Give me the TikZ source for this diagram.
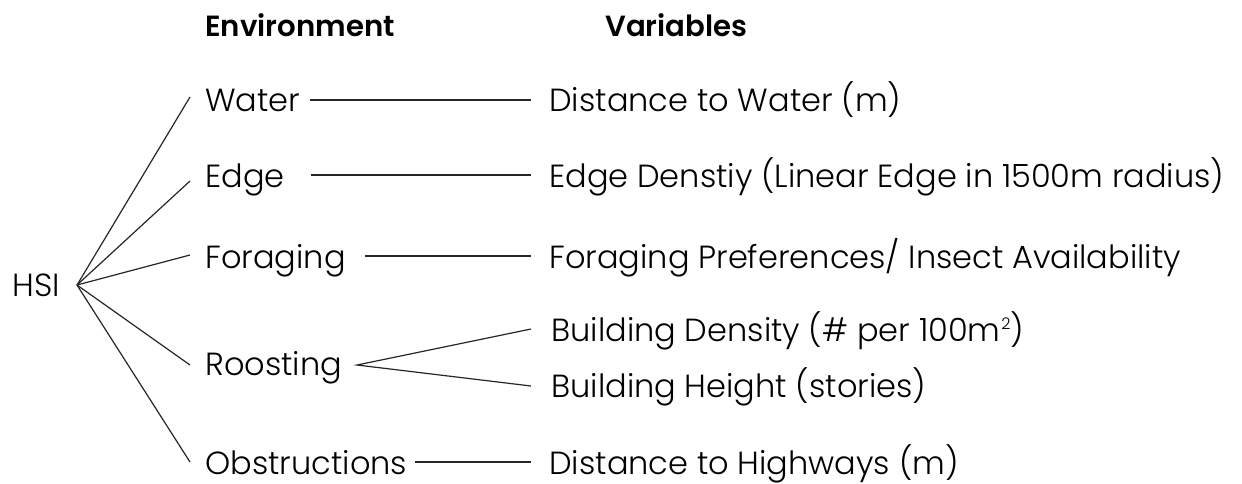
\documentclass[tikz,border=0pt]{standalone}
\usepackage{fontspec}
\setmainfont{Poppins}[UprightFont={* Light},BoldFont={* SemiBold}]
\begin{document}
\begin{tikzpicture}[x=0.5pt,y=-0.5pt,
  lbl/.style={anchor=base west,inner sep=0pt,font=\fontsize{16}{19}\selectfont},
  head/.style={anchor=base west,inner sep=0pt,font=\fontsize{14.6}{17}\selectfont\bfseries},
  link/.style={line width=0.6pt,black!85}]
\useasboundingbox[fill=white] (0,0) rectangle (1242,483);

% column headings
\node[head] (henv) at (205,36) {Environment};
\node[head] (hvar) at (605,36) {Variables};

% root
\node[lbl] (hsi) at (12,296) {HSI};
\coordinate (hub) at (77,285);

% environment factors
\node[lbl] (water) at (205,111) {Water};
\node[lbl] (edge)  at (205,187) {Edge};
\node[lbl] (forag) at (205,268) {Foraging};
\node[lbl] (roost) at (205,375) {Roosting};
\node[lbl] (obst)  at (205,474) {Obstructions};

% variables
\node[lbl] (vwater) at (549,111) {Distance to Water (m)};
\node[lbl] (vedge)  at (549,187) {Edge Denstiy (Linear Edge in 1500m radius)};
\node[lbl] (vforag) at (549,268) {Foraging Preferences/ Insect Availability};
\node[lbl] (vbden)  at (551,341) {Building Density (\# per 100m\kern0.5pt\raisebox{0.36em}{\fontsize{8}{8}\selectfont 2})};
\node[lbl] (vbht)   at (551,397) {Building Height (stories)};
\node[lbl] (vobst)  at (549,474) {Distance to Highways (m)};

% connector end points
\coordinate (cwater) at (190,97);
\coordinate (cedge)  at (190,181);
\coordinate (cforag) at (190,255);
\coordinate (croost) at (190,365);
\coordinate (cobst)  at (190,462);

\coordinate (wa) at (310,100);  \coordinate (wb) at (531,100);
\coordinate (ea) at (311,175);  \coordinate (eb) at (531,175);
\coordinate (fa) at (365,256);  \coordinate (fb) at (531,256);
\coordinate (rh) at (357,365);
\coordinate (r1) at (531,329);  \coordinate (r2) at (531,386);
\coordinate (oa) at (415,462);  \coordinate (ob) at (531,462);

% HSI fan
\foreach \t in {cwater,cedge,cforag,croost,cobst}
  \draw[link] (hub) -- (\t);

% factor to variable links
\draw[link] (wa) -- (wb);
\draw[link] (ea) -- (eb);
\draw[link] (fa) -- (fb);
\draw[link] (r1) -- (rh) -- (r2);
\draw[link] (oa) -- (ob);
\end{tikzpicture}
\end{document}
